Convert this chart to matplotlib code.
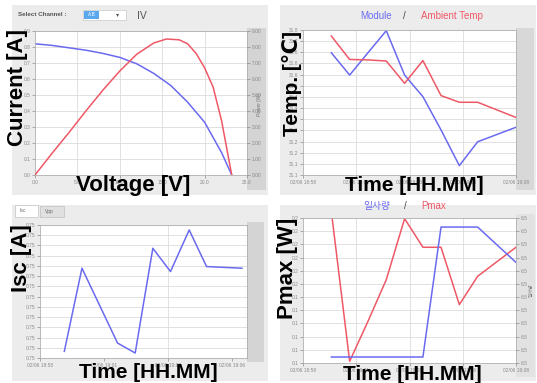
import matplotlib.pyplot as plt
import matplotlib.patches as mpatches
import numpy as np

W, H = 537, 383

# IV curve (panel 1)
volt_i = [0, 2, 4, 6, 8, 10, 12, 14, 16, 18, 20, 22, 23.2]
current = [0.82, 0.81, 0.795, 0.78, 0.76, 0.735, 0.695, 0.635, 0.56, 0.455, 0.33, 0.14, 0.0]
volt_p = [0, 2, 4, 6, 8, 10, 12, 14, 15.5, 17, 18, 19, 20, 21, 22, 23.2]
power = [0, 1.35, 2.65, 4.0, 5.3, 6.5, 7.55, 8.25, 8.5, 8.45, 8.2, 7.6, 6.7, 5.5, 3.4, 0]

# temperatures (panel 2), minutes after 18:58
t_min = [1.33, 2.19, 3.05, 3.91, 4.77, 5.63, 6.48, 7.34, 8.2, 10.0]
temp_module = [31.648, 31.548, 31.648, 31.747, 31.548, 31.451, 31.302, 31.142, 31.249, 31.314]
temp_ambient = [31.723, 31.618, 31.616, 31.611, 31.511, 31.613, 31.456, 31.426, 31.426, 31.358]

# Isc (panel 3)
t_isc = [0.95, 1.64, 3.03, 3.72, 4.41, 5.10, 5.83, 6.51, 7.89]
isc = [0.7464, 0.7514, 0.7469, 0.7463, 0.7526, 0.7512, 0.7537, 0.7515, 0.7514]

# irradiance / Pmax (panel 4)
irradiance = [6.4633, 6.4633, 6.4633, 6.4633, 6.4633, 6.4633, 6.535, 6.535, 6.535, 6.5155]
pmax = [0.215, 0.1013, 0.1316, 0.1632, 0.2095, 0.1878, 0.1878, 0.1443, 0.1658, 0.1878]

time_labels = ['02/06 18:58', '02/06 19:01', '02/06 19:03', '02/06 19:06', '02/06 19:08']

BLUE = '#6a6af0'
RED = '#ee5866'
GRID = '#dcdcdc'
TICK = '#8a8a8a'

plt.rcParams['font.family'] = ['Liberation Sans', 'Noto Sans CJK KR', 'DejaVu Sans']

fig = plt.figure(figsize=(W / 100, H / 100), dpi=100)
fig.patch.set_facecolor('white')


def rect(x0, y0, x1, y1):
    return [x0 / W, 1 - y1 / H, (x1 - x0) / W, (y1 - y0) / H]


def box(x0, y0, x1, y1, color, ec='none', lw=0, z=-10):
    fig.patches.append(mpatches.Rectangle((x0 / W, 1 - y1 / H), (x1 - x0) / W, (y1 - y0) / H,
                                          transform=fig.transFigure, fc=color, ec=ec, lw=lw, zorder=z))


def ftext(x, y, s, **kw):
    fig.text(x / W, 1 - y / H, s, **kw)


def style(ax, yticks, yfmt, grid_x=None):
    ax.set_facecolor('white')
    for sp in ax.spines.values():
        sp.set_color('#b0b0b0')
        sp.set_linewidth(0.6)
    ax.set_yticks(yticks)
    ax.set_yticklabels([yfmt % v for v in yticks])
    ax.tick_params(labelsize=3.5, colors=TICK, length=2, width=0.5, pad=1.5)
    for v in yticks:
        ax.axhline(v, color=GRID, lw=0.6, zorder=0)
    if grid_x is not None:
        for v in grid_x:
            ax.axvline(v, color=GRID, lw=0.6, zorder=0)


# panel backgrounds
for (x0, y0, x1, y1) in [(12, 5, 268, 195), (280, 5, 536, 195), (12, 205, 268, 381), (280, 205, 536, 381)]:
    box(x0, y0, x1, y1, '#ececec', z=-20)
box(247, 28, 266, 190, '#d4d4d4')
box(516, 28, 534, 190, '#d8d8d8')
box(247, 222, 264, 362, '#d4d4d4')
box(516, 214, 535, 377, '#e2e2e2')

# ---- panel 1: IV ----
ax1 = fig.add_axes(rect(35, 31, 247, 175))
ax1.plot(volt_i, current, color=BLUE, lw=1.1)
ax1.set_xlim(0, 25)
ax1.set_ylim(0, 0.9)
style(ax1, np.round(np.arange(0, 0.91, 0.1), 2), '%.1f', grid_x=[5, 10, 15, 20])
ax1.set_xticks([0, 5, 10, 15, 20, 25])
ax1.set_xticklabels(['%.1f' % v for v in [0, 5, 10, 15, 20, 25]])
ax1r = ax1.twinx()
ax1r.plot(volt_p, power, color=RED, lw=1.1)
ax1r.set_ylim(0, 9)
ax1r.set_yticks(range(10))
ax1r.set_yticklabels(['%.2f' % v for v in range(10)])
ax1r.tick_params(labelsize=3.5, colors=TICK, length=2, width=0.5, pad=1.5)
for sp in ax1r.spines.values():
    sp.set_visible(False)
ftext(259, 105, 'Power [W]', fontsize=3.5, color='#777777', rotation=90, ha='center', va='center')

ftext(18, 15, 'Select Channel :', fontsize=4.5, color='#555555', fontweight='bold', va='center')
box(83, 10, 126, 20, 'white', ec='#c8c8c8', lw=0.5, z=1)
box(84, 11, 99, 19, '#5aa8f0', z=2)
ftext(91.5, 15, 'A.B', fontsize=3.5, color='white', ha='center', va='center')
ftext(118, 15, '\u25be', fontsize=4.5, color='#555555', ha='center', va='center', family='DejaVu Sans')
ftext(137, 16, 'IV', fontsize=7.5, color='#555555', va='center')

ftext(18, 88, 'Current [A]', fontsize=16, fontweight='bold', rotation=90, ha='center', va='center')
ftext(133, 185, 'Voltage [V]', fontsize=16, fontweight='bold', ha='center', va='center')

# ---- panel 2: temperatures ----
ax2 = fig.add_axes(rect(303, 30, 516, 175))
ax2.plot(t_min, temp_module, color=BLUE, lw=1.1)
ax2.plot(t_min, temp_ambient, color=RED, lw=1.1)
ax2.set_xlim(0, 10)
ax2.set_ylim(31.1, 31.75)
style(ax2, np.round(np.arange(31.1, 31.751, 0.05), 2), '%.1f', grid_x=[2.5, 5, 7.5])
ax2.set_xticks([0, 2.5, 5, 7.5, 10])
ax2.set_xticklabels(time_labels)
ftext(376, 16, 'Module', fontsize=7, color=BLUE, ha='center', va='center')
ftext(404, 16, '/', fontsize=7, color='#444444', ha='center', va='center')
ftext(452, 16, 'Ambient Temp', fontsize=7, color=RED, ha='center', va='center')
ftext(292, 84, 'Temp. [\u2103]', fontsize=15, fontweight='bold', rotation=90, ha='center', va='center',
      family=['Liberation Sans', 'DejaVu Sans'])
ftext(414, 185, 'Time [HH.MM]', fontsize=15, fontweight='bold', ha='center', va='center')

# ---- panel 3: Isc ----
box(15, 205, 38, 217, 'white', ec='#c0c0c0', lw=0.5)
box(40, 206, 64, 217, '#e0e0e0', ec='#c0c0c0', lw=0.5)
ftext(20, 211, 'Isc', fontsize=3.5, color='#666666', va='center')
ftext(45, 211, 'Vpp', fontsize=3.5, color='#666666', va='center')
ax3 = fig.add_axes(rect(40, 225, 247, 358))
ax3.plot(t_isc, isc, color=BLUE, lw=1.1)
ax3.set_xlim(0, 8.09)
ax3.set_ylim(0.746, 0.754)
style(ax3, np.linspace(0.746, 0.754, 14), '%.2f', grid_x=[5])
ax3.set_xticks([0, 2.5, 5, 7.5])
ax3.set_xticklabels(time_labels[:4])
ftext(22, 258, 'Isc [A]', fontsize=16, fontweight='bold', rotation=90, ha='center', va='center')
ftext(148, 372, 'Time [HH.MM]', fontsize=15, fontweight='bold', ha='center', va='center')

# ---- panel 4: irradiance / Pmax ----
ax4 = fig.add_axes(rect(303, 218, 516, 363))
ax4.plot(t_min, pmax, color=RED, lw=1.1)
ax4.set_xlim(0, 10)
ax4.set_ylim(0.10, 0.21)
style(ax4, np.round(np.arange(0.10, 0.211, 0.01), 2), '%.1f', grid_x=[2.5, 5, 7.5])
ax4.set_xticks([0, 2.5, 5, 7.5, 10])
ax4.set_xticklabels(time_labels)
ax4r = ax4.twinx()
ax4r.plot(t_min, irradiance, color=BLUE, lw=1.1)
ax4r.set_ylim(6.46, 6.54)
yt = np.linspace(6.46, 6.54, 12)
ax4r.set_yticks(yt)
ax4r.set_yticklabels(['%.1f' % v for v in yt])
ax4r.tick_params(labelsize=3.5, colors=TICK, length=2, width=0.5, pad=1.5)
for sp in ax4r.spines.values():
    sp.set_visible(False)
ftext(531, 290, '\uc77c\uc0ac\ub7c9', fontsize=3.5, color='#777777', rotation=90, ha='center', va='center')
ftext(377, 206, '\uc77c\uc0ac\ub7c9', fontsize=7, color=BLUE, ha='center', va='center')
ftext(405, 206, '/', fontsize=7, color='#444444', ha='center', va='center')
ftext(434, 206, 'Pmax', fontsize=7, color=RED, ha='center', va='center')
ftext(288, 268, 'Pmax [W]', fontsize=16, fontweight='bold', rotation=90, ha='center', va='center')
ftext(412, 374, 'Time [HH.MM]', fontsize=15, fontweight='bold', ha='center', va='center')

fig.savefig('out.png', dpi=100)
